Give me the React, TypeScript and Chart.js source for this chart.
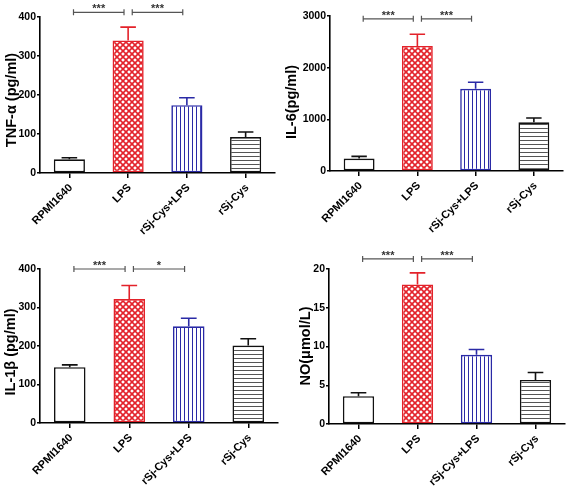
import { useEffect, useRef } from "react";
import { Chart, registerables } from "chart.js";

Chart.register(...registerables);

const categories = ["RPMI1640", "LPS", "rSj-Cys+LPS", "rSj-Cys"];

const tnfMeans = [35, 340, 174, 92];
const tnfErrors = [4, 34, 19, 13];
const tnfTicks = { max: 400, step: 100 };

const il6Means = [240, 2420, 1590, 942];
const il6Errors = [44, 226, 128, 84];
const il6Ticks = { max: 3000, step: 1000 };

const il1bMeans = [145, 322, 251, 201];
const il1bErrors = [6, 35, 21, 18];
const il1bTicks = { max: 400, step: 100 };

const noMeans = [3.58, 18.0, 8.92, 5.69];
const noErrors = [0.45, 1.5, 0.7, 0.95];
const noTicks = { max: 20, step: 5 };

// significance pairs: [from, to, label]
const tnfSig: [number, number, string][] = [[0, 1, "***"], [1, 2, "***"]];
const il6Sig: [number, number, string][] = [[0, 1, "***"], [1, 2, "***"]];
const il1bSig: [number, number, string][] = [[0, 1, "***"], [1, 2, "*"]];
const noSig: [number, number, string][] = [[0, 1, "***"], [1, 2, "***"]];
const sigLevels = [412, 2945, 400, 21.3];

const RED = "#e3222a";
const BLUE = "#2a2aa6";
const BLACK = "#111111";
const FONT = '"Liberation Sans", Arial, sans-serif';

function makePattern(kind: string): CanvasPattern | string {
  const c = document.createElement("canvas");
  const size = kind === "cross" ? 6 : 4;
  c.width = size;
  c.height = size;
  const g = c.getContext("2d");
  if (!g) return "#fff";
  g.fillStyle = "#ffffff";
  g.fillRect(0, 0, size, size);
  if (kind === "cross") {
    g.strokeStyle = RED;
    g.lineWidth = 1.6;
    g.beginPath();
    g.moveTo(-1, -1); g.lineTo(size + 1, size + 1);
    g.moveTo(size + 1, -1); g.lineTo(-1, size + 1);
    g.stroke();
  } else if (kind === "vert") {
    g.fillStyle = BLUE;
    g.fillRect(0, 0, 1, size);
  } else if (kind === "horiz") {
    g.fillStyle = "#555555";
    g.fillRect(0, 0, size, 1);
  }
  const p = g.createPattern(c, "repeat");
  return p || "#fff";
}

type Panel = {
  title: string;
  means: number[];
  errors: number[];
  ticks: { max: number; step: number };
  sig: [number, number, string][];
  sigLevel: number;
  left: number;
  top: number;
  w: number;
  h: number;
  areaLeft: number;
  areaTop: number;
  areaRight: number;
  areaBottom: number;
  titleX: number;
  titleY: number;
};

const panels: Panel[] = [
  { title: "TNF-α (pg/ml)", means: tnfMeans, errors: tnfErrors, ticks: tnfTicks, sig: tnfSig, sigLevel: sigLevels[0],
    left: 0, top: 0, w: 280, h: 250, areaLeft: 40, areaTop: 17, areaRight: 275, areaBottom: 173, titleX: 12, titleY: 100 },
  { title: "IL-6(pg/ml)", means: il6Means, errors: il6Errors, ticks: il6Ticks, sig: il6Sig, sigLevel: sigLevels[1],
    left: 280, top: 0, w: 287, h: 250, areaLeft: 50, areaTop: 16, areaRight: 283, areaBottom: 171, titleX: 12, titleY: 102 },
  { title: "IL-1β (pg/ml)", means: il1bMeans, errors: il1bErrors, ticks: il1bTicks, sig: il1bSig, sigLevel: sigLevels[2],
    left: 0, top: 250, w: 280, h: 249, areaLeft: 40, areaTop: 19, areaRight: 278, areaBottom: 173, titleX: 11, titleY: 102 },
  { title: "NO(μmol/L)", means: noMeans, errors: noErrors, ticks: noTicks, sig: noSig, sigLevel: sigLevels[3],
    left: 280, top: 250, w: 287, h: 249, areaLeft: 49, areaTop: 19, areaRight: 285, areaBottom: 174, titleX: 26, titleY: 96 },
];

function BarPanel({ p }: { p: Panel }) {
  const ref = useRef<HTMLCanvasElement | null>(null);
  useEffect(() => {
    const canvas = ref.current;
    if (!canvas) return;
    const borders = [BLACK, RED, BLUE, BLACK];
    const fills = ["#ffffff", makePattern("cross"), makePattern("vert"), makePattern("horiz")];

    const overlay = {
      id: "overlay",
      afterDraw(chart: any) {
        const ctx = chart.ctx;
        const meta = chart.getDatasetMeta(0);
        const ys = chart.scales.y;
        const xs = chart.scales.x;
        ctx.save();
        // error bars
        meta.data.forEach((bar: any, i: number) => {
          const top = ys.getPixelForValue(p.means[i]);
          const ey = ys.getPixelForValue(p.means[i] + p.errors[i]);
          const half = bar.width / 4;
          ctx.strokeStyle = borders[i];
          ctx.lineWidth = 1.6;
          ctx.beginPath();
          ctx.moveTo(bar.x, top);
          ctx.lineTo(bar.x, ey);
          ctx.moveTo(bar.x - half, ey);
          ctx.lineTo(bar.x + half, ey);
          ctx.stroke();
        });
        // significance brackets
        const by = ys.getPixelForValue(p.sigLevel);
        p.sig.forEach(([a, b, label]) => {
          const x1 = xs.getPixelForValue(a);
          const x2 = xs.getPixelForValue(b);
          const mid = (x1 + x2) / 2;
          const hw = (x2 - x1) * 0.43;
          ctx.strokeStyle = "#555555";
          ctx.lineWidth = 1.2;
          ctx.beginPath();
          ctx.moveTo(mid - hw, by);
          ctx.lineTo(mid + hw, by);
          ctx.moveTo(mid - hw, by - 3);
          ctx.lineTo(mid - hw, by + 3);
          ctx.moveTo(mid + hw, by - 3);
          ctx.lineTo(mid + hw, by + 3);
          ctx.stroke();
          ctx.fillStyle = "#333";
          ctx.font = `bold 11px ${FONT}`;
          ctx.textAlign = "center";
          ctx.textBaseline = "alphabetic";
          ctx.fillText(label, mid, by);
        });
        // rotated category labels
        ctx.fillStyle = "#000";
        ctx.font = `bold 11px ${FONT}`;
        ctx.textAlign = "right";
        ctx.textBaseline = "middle";
        categories.forEach((c, i) => {
          const x = xs.getPixelForValue(i) + 1.5;
          const y = xs.top + 13;
          ctx.save();
          ctx.translate(x, y);
          ctx.rotate(-Math.PI / 4);
          ctx.fillText(c, 0, 0);
          ctx.restore();
        });
        // y-axis title
        ctx.translate(p.titleX, p.titleY);
        ctx.rotate(-Math.PI / 2);
        ctx.fillStyle = "#000";
        ctx.font = `bold 14.5px ${FONT}`;
        ctx.textAlign = "center";
        ctx.textBaseline = "middle";
        ctx.fillText(p.title, 0, 0);
        ctx.restore();
      },
    };

    const chart = new Chart(canvas, {
      type: "bar",
      data: {
        labels: categories,
        datasets: [
          {
            data: p.means,
            backgroundColor: fills as any,
            borderColor: borders,
            borderWidth: 1.6,
            borderSkipped: false,
            barPercentage: 0.53,
            categoryPercentage: 1,
          },
        ],
      },
      options: {
        animation: false,
        responsive: false,
        maintainAspectRatio: false,
        layout: { padding: { top: p.areaTop, right: p.w - p.areaRight, left: 0, bottom: 0 } },
        plugins: { legend: { display: false }, tooltip: { enabled: false } },
        scales: {
          x: {
            grid: { display: true, drawOnChartArea: false, drawTicks: true, offset: false, tickLength: 5, color: "#000", lineWidth: 1.5 },
            border: { color: "#000", width: 1.6 },
            ticks: { display: false },
            afterFit: (s: any) => {
              s.height = p.h - p.areaBottom;
              s.paddingLeft = 0;
              s.paddingRight = 0;
            },
          },
          y: {
            min: 0,
            max: p.ticks.max,
            grid: { display: true, drawOnChartArea: false, tickLength: 3, color: "#000", lineWidth: 1.5 },
            border: { color: "#000", width: 1.6 },
            ticks: {
              stepSize: p.ticks.step,
              color: "#000",
              padding: 1,
              font: { family: FONT, size: 10.5, weight: "bold" },
              callback: (v: any) => String(v),
            },
            title: { display: false },
            afterFit: (s: any) => {
              s.width = p.areaLeft;
            },
          },
        },
      },
      plugins: [overlay],
    } as any);
    return () => chart.destroy();
  }, [p]);
  return (
    <div style={{ position: "absolute", left: p.left, top: p.top, width: p.w, height: p.h }}>
      <canvas ref={ref} width={p.w} height={p.h} style={{ width: p.w, height: p.h, display: "block" }} />
    </div>
  );
}

export default function App() {
  return (
    <div style={{ position: "absolute", left: 0, top: 0, width: 567, height: 499, background: "#fff" }}>
      {panels.map((p, i) => (
        <BarPanel key={i} p={p} />
      ))}
    </div>
  );
}
